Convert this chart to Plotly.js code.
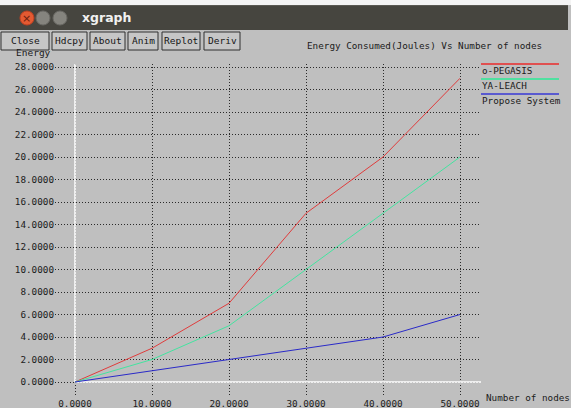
<!DOCTYPE html>
<html>
<head>
<meta charset="utf-8">
<script src="https://cdn.plot.ly/plotly-3.0.1.min.js"></script>
<style>
html,body{margin:0;padding:0;background:#ffffff;}
#chart{width:571px;height:408px;}
</style>
</head>
<body>
<div id="chart"></div>
<script>
// ---- data ----
const nodes = [0, 10, 20, 30, 40, 50];
const oPegasis = [0, 3, 7, 15, 20, 27];
const yaLeach = [0, 2, 5, 10, 15, 20];
const proposeSystem = [0, 1, 2, 3, 4, 6];
const seriesNames = ['o-PEGASIS', 'YA-LEACH', 'Propose System'];
const seriesColors = ['#e03c3c', '#44e4a0', '#2a2ac8'];
const legendColors = ['#e05050', '#50e0a0', '#5a5ad0'];
const buttonLabels = ['Close', 'Hdcpy', 'About', 'Anim', 'Replot', 'Deriv'];
const chartTitle = 'Energy Consumed(Joules) Vs Number of nodes';
const xLabel = 'Number of nodes';
const yLabel = 'Energy';
const windowTitle = 'xgraph';

// ---- layout geometry (pixels) ----
const W = 571, H = 408;
const L = 55, R = 481, T = 64, B = 397;
const pw = R - L, ph = B - T;
const px = x => (x - L) / pw;
const py = y => (B - y) / ph;
const mono = 'DejaVu Sans Mono';
const bg = '#bfbfbf';

const traces = [oPegasis, yaLeach, proposeSystem].map((ys, i) => ({
  x: nodes, y: ys, type: 'scatter', mode: 'lines', name: seriesNames[i],
  line: {color: seriesColors[i], width: 1}, hoverinfo: 'skip'
}));

const shapes = [];
const annotations = [];

// white strip above title bar
shapes.push({type: 'rect', xref: 'paper', yref: 'paper', x0: px(0), x1: px(571), y0: py(0), y1: py(5),
  fillcolor: '#f4f4f4', line: {width: 0}, layer: 'below'});
// title bar
shapes.push({type: 'rect', xref: 'paper', yref: 'paper', x0: px(0), x1: px(568), y0: py(5), y1: py(30),
  fillcolor: '#46453f', line: {width: 0}, layer: 'below'});
shapes.push({type: 'rect', xref: 'paper', yref: 'paper', x0: px(0), x1: px(568), y0: py(5), y1: py(6),
  fillcolor: '#5a5953', line: {width: 0}, layer: 'below'});
// window control circles
const circ = (cx, cy, r, fill, stroke) => shapes.push({type: 'circle', xref: 'paper', yref: 'paper',
  x0: px(cx - r), x1: px(cx + r), y0: py(cy + r), y1: py(cy - r), fillcolor: fill, line: {color: stroke, width: 1}, layer: 'below'});
circ(27, 18, 7, '#e45a32', '#c04020');
circ(43, 18, 7, '#85847e', '#6a6964');
circ(60, 18, 7, '#85847e', '#6a6964');
annotations.push({xref: 'paper', yref: 'paper', x: px(27), y: py(18), text: '×', showarrow: false,
  font: {family: 'DejaVu Sans', size: 11, color: '#6a2010'}, xanchor: 'center', yanchor: 'middle'});
annotations.push({xref: 'paper', yref: 'paper', x: px(80), y: py(17.5), text: '<b>' + windowTitle + '</b>', showarrow: false,
  font: {family: 'DejaVu Sans', size: 12.5, color: '#f0f0f0'}, xanchor: 'left', yanchor: 'middle'});

// "Energy" axis label (partly hidden by button row)
annotations.push({xref: 'paper', yref: 'paper', x: px(14), y: py(52.5), text: yLabel, showarrow: false,
  font: {family: mono, size: 9.5, color: '#202020'}, xanchor: 'left', yanchor: 'middle'});

// buttons
const btnX = [[1, 49], [52, 87], [90, 125], [128, 158], [162, 200], [204, 240]];
buttonLabels.forEach((lab, i) => {
  const [a, b] = btnX[i];
  shapes.push({type: 'rect', xref: 'paper', yref: 'paper', x0: px(a), x1: px(b), y0: py(32), y1: py(50),
    fillcolor: '#c6c6c6', line: {color: '#303030', width: 1}, layer: 'above'});
  annotations.push({xref: 'paper', yref: 'paper', x: px((a + b) / 2), y: py(41), text: lab, showarrow: false,
    font: {family: mono, size: 9.5, color: '#151515'}, xanchor: 'center', yanchor: 'middle'});
});

// chart title
annotations.push({xref: 'paper', yref: 'paper', x: px(424), y: py(45), text: chartTitle, showarrow: false,
  font: {family: mono, size: 9.3, color: '#202020'}, xanchor: 'center', yanchor: 'middle'});

// x axis label
annotations.push({xref: 'paper', yref: 'paper', x: px(484), y: py(397), text: xLabel, showarrow: false,
  font: {family: mono, size: 9.3, color: '#202020'}, xanchor: 'left', yanchor: 'middle'});

// legend
const legY = [64, 79, 94];
seriesNames.forEach((n, i) => {
  shapes.push({type: 'line', xref: 'paper', yref: 'paper', x0: px(481), x1: px(559), y0: py(legY[i]), y1: py(legY[i]),
    line: {color: legendColors[i], width: 2}});
  annotations.push({xref: 'paper', yref: 'paper', x: px(480), y: py(legY[i] + 6.5), text: n, showarrow: false,
    font: {family: mono, size: 9.3, color: '#202020'}, xanchor: 'left', yanchor: 'middle'});
});

// white axis lines in positive quadrant
shapes.push({type: 'line', xref: 'x', yref: 'y', x0: 0, x1: 0, y0: 0, y1: 28.27, line: {color: '#ffffff', width: 1.5}, layer: 'between'});
shapes.push({type: 'line', xref: 'x', yref: 'y', x0: 0, x1: 52.73, y0: 0, y1: 0, line: {color: '#ffffff', width: 1.5}, layer: 'between'});

const layout = {
  width: W, height: H,
  margin: {l: L, r: W - R, t: T, b: H - B, pad: 0},
  paper_bgcolor: bg, plot_bgcolor: bg,
  showlegend: false,
  xaxis: {
    range: [(L - 75) / 7.7, (R - 75) / 7.7], dtick: 10, tick0: 0, tickformat: '.4f',
    showgrid: true, gridcolor: '#2a2a2a', griddash: '1px,2px', gridwidth: 1,
    zeroline: false, showline: false, ticks: '',
    tickfont: {family: mono, size: 9.3, color: '#202020'}
  },
  yaxis: {
    range: [-(B - 382) / 11.25, (382 - T) / 11.25], dtick: 2, tick0: 0, tickformat: '.4f',
    showgrid: true, gridcolor: '#2a2a2a', griddash: '1px,2px', gridwidth: 1,
    zeroline: false, showline: false, ticks: '',
    tickfont: {family: mono, size: 9.3, color: '#202020'}
  },
  shapes: shapes,
  annotations: annotations
};

Plotly.newPlot('chart', traces, layout, {staticPlot: true, displayModeBar: false});
</script>
</body>
</html>
